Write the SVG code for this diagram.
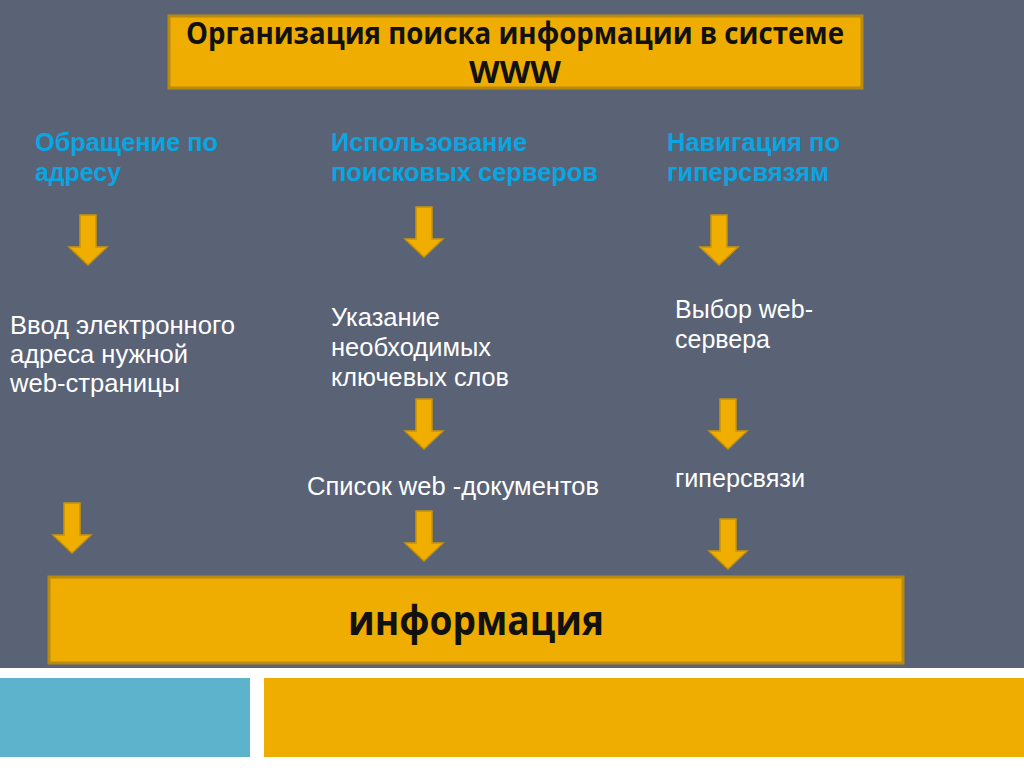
<svg xmlns="http://www.w3.org/2000/svg" width="1024" height="768" viewBox="0 0 1024 768">
<defs>
<style>
.box{fill:#EEAD00;stroke:#B98A10;stroke-width:3}
.hdr{fill:#0AA6E2;font-weight:bold}
.body{fill:#FFFFFF}
.ttl{fill:#111111;font-weight:bold}
.arr{fill:#F0AE00;stroke:#C9940A;stroke-width:1.5;stroke-linejoin:miter}
</style>
<path id="a" d="M-8,0 H8 V32 H19 L0,50 L-19,32 H-8 Z"/>
</defs>
<rect x="0" y="0" width="1024" height="668" fill="#5A6276"/>
<rect x="0" y="668" width="1024" height="100" fill="#FFFFFF"/>
<rect x="0" y="678" width="250" height="79" fill="#5DB3CB"/>
<rect x="264" y="678" width="760" height="79" fill="#EEAD00"/>

<g id="title" font-family="Open Sans, Noto Sans, sans-serif" font-size="31">
<rect class="box" x="169" y="16" width="693" height="72"/>
<text class="ttl" x="515" y="44" text-anchor="middle" textLength="658" lengthAdjust="spacingAndGlyphs">Организация поиска информации в системе</text>
<text class="ttl" x="515" y="83" text-anchor="middle" textLength="92" lengthAdjust="spacingAndGlyphs">WWW</text>
</g>

<g font-family="Liberation Sans, Arial, sans-serif" font-size="25">
<g id="h1"><text class="hdr" x="35" y="151" textLength="183" lengthAdjust="spacingAndGlyphs">Обращение по</text><text class="hdr" x="35" y="181" textLength="86" lengthAdjust="spacingAndGlyphs">адресу</text></g>
<g id="h2"><text class="hdr" x="331" y="151" textLength="196" lengthAdjust="spacingAndGlyphs">Использование</text><text class="hdr" x="331" y="181" textLength="267" lengthAdjust="spacingAndGlyphs">поисковых серверов</text></g>
<g id="h3"><text class="hdr" x="667" y="151" textLength="173" lengthAdjust="spacingAndGlyphs">Навигация по</text><text class="hdr" x="667" y="181" textLength="162" lengthAdjust="spacingAndGlyphs">гиперсвязям</text></g>

<g id="n1"><text class="body" x="10" y="334" textLength="225" lengthAdjust="spacingAndGlyphs">Ввод электронного</text><text class="body" x="10" y="363" textLength="178" lengthAdjust="spacingAndGlyphs">адреса нужной</text><text class="body" x="10" y="392" textLength="170" lengthAdjust="spacingAndGlyphs">web-страницы</text></g>
<g id="n2"><text class="body" x="331" y="326" textLength="109" lengthAdjust="spacingAndGlyphs">Указание</text><text class="body" x="331" y="356" textLength="160" lengthAdjust="spacingAndGlyphs">необходимых</text><text class="body" x="331" y="386" textLength="178" lengthAdjust="spacingAndGlyphs">ключевых слов</text></g>
<g id="n3"><text class="body" x="307" y="495" textLength="292" lengthAdjust="spacingAndGlyphs">Список web -документов</text></g>
<g id="n4"><text class="body" x="675" y="318" textLength="138" lengthAdjust="spacingAndGlyphs">Выбор web-</text><text class="body" x="675" y="348" textLength="95" lengthAdjust="spacingAndGlyphs">сервера</text></g>
<g id="n5"><text class="body" x="675" y="487" textLength="130" lengthAdjust="spacingAndGlyphs">гиперсвязи</text></g>
</g>

<g id="info" font-family="Open Sans, Noto Sans, sans-serif" font-size="42">
<rect class="box" x="49" y="577" width="854" height="86"/>
<text class="ttl" x="476" y="635" text-anchor="middle" textLength="256" lengthAdjust="spacingAndGlyphs">информация</text>
</g>

<g id="connectors">
<use href="#a" class="arr" x="88" y="215"/>
<use href="#a" class="arr" x="424" y="207"/>
<use href="#a" class="arr" x="719" y="215"/>
<use href="#a" class="arr" x="424" y="399"/>
<use href="#a" class="arr" x="728" y="399"/>
<use href="#a" class="arr" x="72" y="503"/>
<use href="#a" class="arr" x="424" y="511"/>
<use href="#a" class="arr" x="728" y="519"/>
</g>
</svg>
